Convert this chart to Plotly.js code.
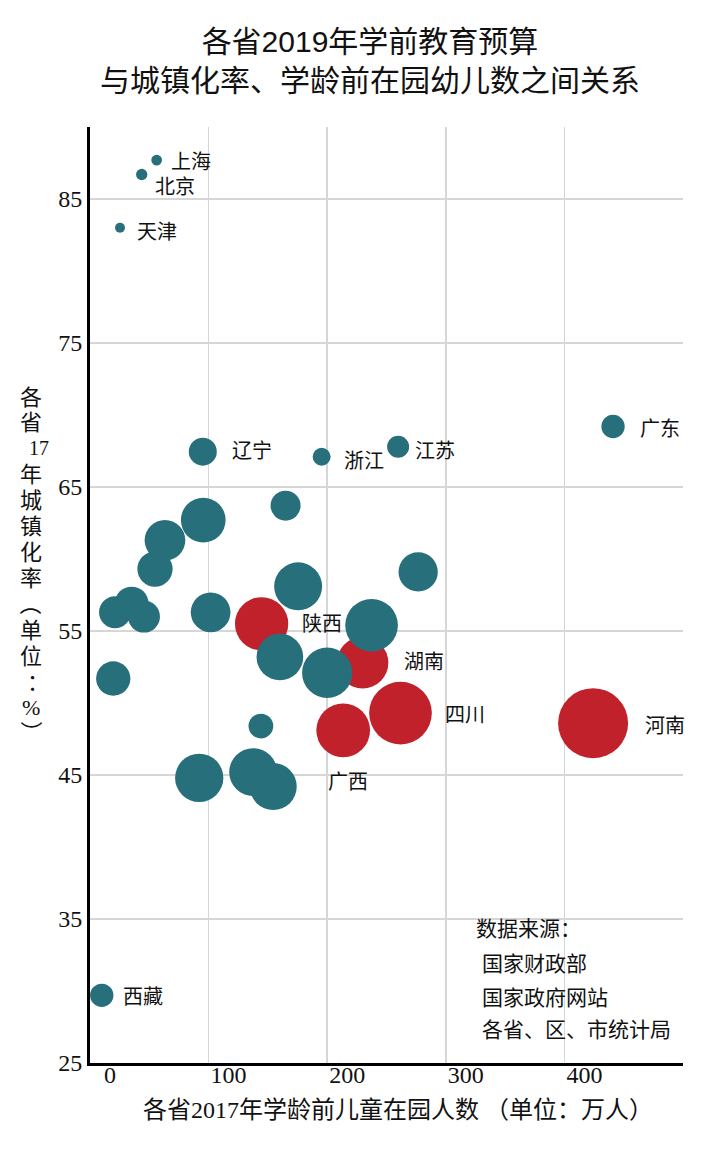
<!DOCTYPE html>
<html><head><meta charset="utf-8">
<script src="https://cdn.plot.ly/plotly-3.0.1.min.js"></script>
<style>html,body{margin:0;padding:0;background:#fff;} #chart{width:717px;height:1163px;}</style>
</head><body><div id="chart"></div>
<script>
// ---------------- data ----------------
// x: 2017 preschool children in kindergarten (万人); y: 2017 urbanisation rate (%);
// budget: 2019 preschool education budget (bubble area, relative)
const tealNames  = ['上海','北京','天津','辽宁','浙江','江苏','广东','西藏','','','','','','','','','','','','','','','','','',''];
const tealKids   = [56.2, 43.6, 25.3, 95.1, 195.3, 259.8, 441.0, 9.9, 95.5, 63.2, 54.8, 164.9, 175.5, 21.1, 35.1, 45.5, 101.7, 237.4, 160.1, 200.0, 19.6, 144.1, 92.1, 137.6, 154.5, 276.7];
const tealUrban  = [87.7, 86.7, 83.0, 67.45, 67.1, 67.8, 69.2, 29.7, 62.7, 61.3, 59.3, 63.7, 58.1, 56.3, 56.9, 56.0, 56.3, 55.4, 53.2, 52.1, 51.7, 48.4, 44.8, 45.2, 44.2, 59.1];
const tealBudget = [2.34, 2.61, 2.04, 16.0, 6.61, 9.88, 11.1, 11.1, 40.8, 33.8, 25.4, 18.4, 47.0, 20.9, 23.6, 20.9, 32.2, 56.7, 44.5, 51.6, 24.0, 12.5, 47.6, 47.0, 45.1, 31.5];

const redNames  = ['陕西','湖南','四川','广西','河南'];
const redKids   = [144.7, 229.8, 261.8, 213.5, 424.2];
const redUrban  = [55.5, 52.8, 49.3, 48.1, 48.6];
const redBudget = [58.0, 54.5, 80.2, 58.9, 100.0];

const xTickVals = [0, 100, 200, 300, 400, 500];
const xTickText = ['0', '100', '200', '300', '400', ''];
const yTickVals = [25, 35, 45, 55, 65, 75, 85];
const yTickText = ['25', '35', '45', '55', '65', '75', '85'];

const chartTitle = '各省2019年学前教育预算<br>与城镇化率、学龄前在园幼儿数之间关系';
const xTitle = '各省2017年学龄前儿童在园人数 （单位：万人）';
const yTitleChars = ['各','省','17','年','城','镇','化','率','（','单','位','：','%','）'];
const sourceLines = ['数据来源：', '国家财政部', '国家政府网站', '各省、区、市统计局'];

// ---------------- styles / layout ----------------
const W = 717, H = 1163;
const M = {l: 90, r: 34, t: 127, b: 100};
const PW = W - M.l - M.r, PH = H - M.t - M.b;
const px2x = px => (px - M.l) / PW;
const py2y = py => (H - M.b - py) / PH;

const TEAL = '#27707b', RED = '#c0212b';
const SERIF = 'Liberation Serif, Noto Sans CJK SC, serif';
const CJK = 'Noto Sans CJK SC, sans-serif';
const SANS = 'Liberation Sans, Noto Sans CJK SC, sans-serif';
const SIZEREF = 2 / 49;

// label offsets in pixels relative to bubble centre [xshift, yshift]
const labelOffsets = {
  '上海': [12, 0], '北京': [11, -11], '天津': [15, -3], '辽宁': [27, 2],
  '浙江': [20, -3], '江苏': [15, -3], '广东': [25, -1], '西藏': [19, 0],
  '陕西': [38, 1], '湖南': [39, 2], '四川': [43, 0], '河南': [50, -1], '广西': [-17, -50]
};

const traces = [
  {type: 'scatter', mode: 'markers', x: redKids, y: redUrban, text: redNames,
   marker: {size: redBudget, sizemode: 'area', sizeref: SIZEREF, color: RED, opacity: 1, line: {width: 0}},
   hoverinfo: 'skip', cliponaxis: true},
  {type: 'scatter', mode: 'markers', x: tealKids, y: tealUrban, text: tealNames,
   marker: {size: tealBudget, sizemode: 'area', sizeref: SIZEREF, color: TEAL, opacity: 1, line: {width: 0}},
   hoverinfo: 'skip', cliponaxis: true}
];

const annotations = [];
function addLabels(names, xs, ys) {
  names.forEach((n, i) => {
    if (!n) return;
    const off = labelOffsets[n] || [15, 0];
    annotations.push({xref: 'x', yref: 'y', x: xs[i], y: ys[i], text: n, showarrow: false,
      xanchor: 'left', yanchor: 'middle', xshift: off[0], yshift: off[1],
      font: {family: CJK, size: 20, color: '#111'}});
  });
}
addLabels(tealNames, tealKids, tealUrban);
addLabels(redNames, redKids, redUrban);

// vertical y-axis title (one character per line)
const yCharCenters = [397, 422, 448, 474, 500, 526, 552, 578, 604, 630, 656, 682, 707, 732];
yTitleChars.forEach((c, i) => {
  const isParen = (c === '（' || c === '）');
  let dx = 0;
  if (c === '17') dx = 8;
  if (c === '：') dx = 7;
  annotations.push({xref: 'paper', yref: 'paper', x: px2x(31 + dx), y: py2y(yCharCenters[i]),
    text: c, showarrow: false, xanchor: 'center', yanchor: 'middle',
    textangle: isParen ? 90 : 0,
    font: {family: SERIF, size: c === '17' ? 20 : 22, color: '#111'}});
});

// x-axis title
annotations.push({xref: 'paper', yref: 'paper', x: px2x(398), y: py2y(1110), text: xTitle,
  showarrow: false, xanchor: 'center', yanchor: 'middle', font: {family: SERIF, size: 24, color: '#111'}});

// source note
const srcLeft = [474, 480, 480, 480];
const srcCenters = [927, 962, 996, 1028];
sourceLines.forEach((s, i) => {
  annotations.push({xref: 'paper', yref: 'paper', x: px2x(srcLeft[i]), y: py2y(srcCenters[i]), text: s,
    showarrow: false, xanchor: 'left', yanchor: 'middle', font: {family: CJK, size: 21, color: '#111'}});
});

const layout = {
  width: W, height: H, margin: M,
  paper_bgcolor: '#fff', plot_bgcolor: '#fff', showlegend: false,
  title: {text: chartTitle, font: {family: SANS, size: 30, color: '#111'},
    xref: 'container', yref: 'container', x: 370 / W, y: 1 - 52 / H, xanchor: 'center', yanchor: 'middle'},
  xaxis: {range: [0, 500], tickmode: 'array', tickvals: xTickVals, ticktext: xTickText,
    showgrid: true, gridcolor: '#d6d6d6', gridwidth: 1.5, zeroline: false,
    showline: true, linecolor: '#000', linewidth: 3, ticks: '', ticklabelshift: 20, ticklabelstandoff: -12,
    tickfont: {family: SERIF, size: 24, color: '#111'}, fixedrange: true},
  yaxis: {range: [25, 90], tickmode: 'array', tickvals: yTickVals, ticktext: yTickText,
    showgrid: true, gridcolor: '#d6d6d6', gridwidth: 1.5, zeroline: false,
    showline: true, linecolor: '#000', linewidth: 3, ticks: '',
    tickfont: {family: SERIF, size: 24, color: '#111'}, fixedrange: true},
  annotations: annotations
};

Plotly.newPlot('chart', traces, layout, {staticPlot: true, displayModeBar: false});
</script>
</body></html>
